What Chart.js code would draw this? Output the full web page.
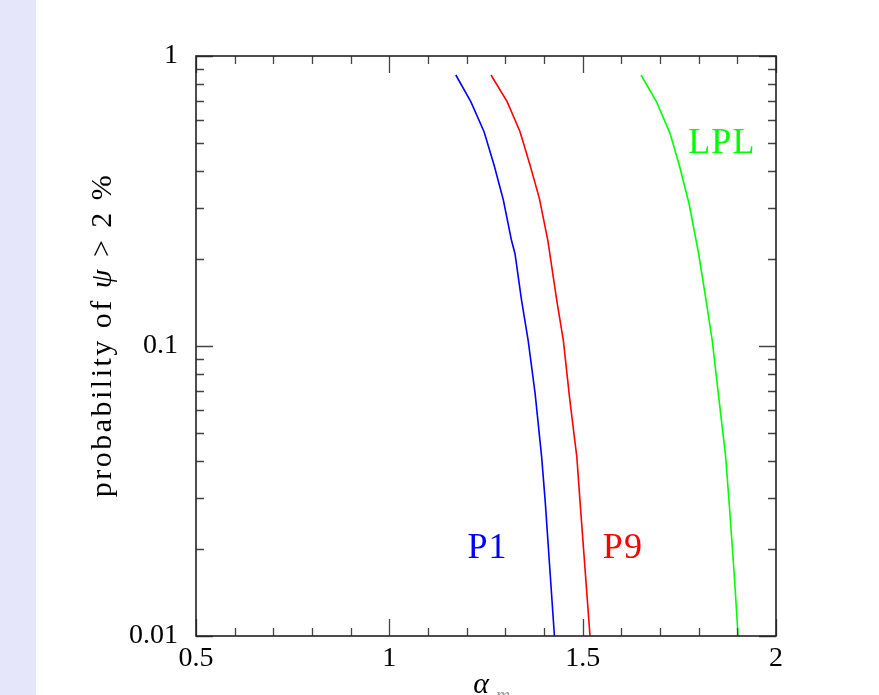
<!DOCTYPE html>
<html><head><meta charset="utf-8">
<script src="https://cdn.jsdelivr.net/npm/chart.js@4"></script>
<style>
html,body{margin:0;padding:0;background:#fff;overflow:hidden;}
#wrap{position:relative;width:879px;height:695px;}
#band{position:absolute;left:0;top:0;width:36px;height:695px;background:#e6e6fa;}
canvas{position:absolute;left:0;top:0;}
</style></head><body>
<div id="wrap"><div id="band"></div><canvas id="c" width="879" height="695"></canvas></div>
<script>
// ---- data ----
const p1X = [1.172, 1.211, 1.245, 1.271, 1.295, 1.316, 1.325, 1.342, 1.359, 1.377, 1.394, 1.403, 1.427];
const p1Y = [0.86, 0.695, 0.548, 0.42, 0.318, 0.231, 0.208, 0.1436, 0.1045, 0.0686, 0.0413, 0.0293, 0.01];
const p9X = [1.263, 1.305, 1.338, 1.364, 1.388, 1.410, 1.433, 1.450, 1.467, 1.485, 1.493, 1.519];
const p9Y = [0.86, 0.695, 0.548, 0.42, 0.323, 0.231, 0.1436, 0.1045, 0.0648, 0.0413, 0.0293, 0.01];
const lplX = [1.651, 1.691, 1.726, 1.751, 1.775, 1.800, 1.822, 1.835, 1.855, 1.870, 1.881, 1.892, 1.902];
const lplY = [0.86, 0.695, 0.541, 0.415, 0.310, 0.208, 0.136, 0.1045, 0.0614, 0.0413, 0.0263, 0.0163, 0.01];

const xTickValues = [0.5,0.6,0.7,0.8,0.9,1,1.1,1.2,1.3,1.4,1.5,1.6,1.7,1.8,1.9,2];
const xLabelValues = [0.5,1,1.5,2];
const yTickValues = [0.01,0.02,0.03,0.04,0.05,0.06,0.07,0.08,0.09,0.1,0.2,0.3,0.4,0.5,0.6,0.7,0.8,0.9,1];
const yLabelValues = [0.01,0.1,1];

const seriesNames = ['P1','P9','LPL'];
const seriesColors = ['#0000ff','#ff0000','#00ff00'];
const labelX = [1.254, 1.604, 1.86];
const labelY = [0.02, 0.02, 0.5];

const yTitleParts = ['probability of ', '\u03C8', ' > 2 %'];
const xTitle = '\u03B1';
const xTitleSub = 'm';

const toPts = (xs, ys) => xs.map((v, i) => ({x: v, y: ys[i]}));
const seriesData = [toPts(p1X, p1Y), toPts(p9X, p9Y), toPts(lplX, lplY)];

const decor = {
  id: 'decor',
  afterDatasetsDraw(chart) {
    const {ctx, chartArea: a, scales: {x, y}} = chart;
    ctx.save();
    // inward ticks
    ctx.strokeStyle = '#444';
    ctx.lineWidth = 1.3;
    ctx.beginPath();
    xTickValues.forEach(v => {
      const px = Math.round(x.getPixelForValue(v)) + 0.5;
      const L = xLabelValues.includes(v) ? 17 : 8;
      ctx.moveTo(px, a.bottom); ctx.lineTo(px, a.bottom - L);
      ctx.moveTo(px, a.top); ctx.lineTo(px, a.top + L);
    });
    yTickValues.forEach(v => {
      const py = Math.round(y.getPixelForValue(v)) + 0.5;
      const L = yLabelValues.includes(v) ? 17 : 8;
      ctx.moveTo(a.left, py); ctx.lineTo(a.left + L, py);
      ctx.moveTo(a.right, py); ctx.lineTo(a.right - L, py);
    });
    ctx.stroke();
    // frame
    ctx.strokeStyle = '#222';
    ctx.lineWidth = 1.6;
    ctx.strokeRect(a.left, a.top, a.right - a.left, a.bottom - a.top);
    // series labels
    ctx.font = '36px "Liberation Serif"';
    try { ctx.letterSpacing = '1px'; } catch(e) {}
    ctx.textAlign = 'center';
    ctx.textBaseline = 'middle';
    seriesNames.forEach((n, i) => {
      ctx.fillStyle = seriesColors[i];
      ctx.fillText(n, x.getPixelForValue(labelX[i]), y.getPixelForValue(labelY[i]));
    });
    // y title, rotated, in three runs (psi in italic)
    ctx.fillStyle = '#000';
    ctx.save();
    ctx.translate(103, 335);
    ctx.rotate(-Math.PI / 2);
    try { ctx.letterSpacing = '2.5px'; } catch(e) {}
    ctx.textAlign = 'left';
    ctx.textBaseline = 'middle';
    const fonts = ['30px "Liberation Serif"', 'italic 30px "Liberation Serif"', '30px "Liberation Serif"'];
    const widths = yTitleParts.map((t, i) => { ctx.font = fonts[i]; return ctx.measureText(t).width; });
    let cx = -widths.reduce((s, w) => s + w, 0) / 2;
    yTitleParts.forEach((t, i) => { ctx.font = fonts[i]; ctx.fillText(t, cx, 0); cx += widths[i]; });
    ctx.restore();
    // x title (cut at bottom edge, as in the reference)
    try { ctx.letterSpacing = '0px'; } catch(e) {}
    ctx.font = 'italic 30px "Liberation Serif"';
    ctx.textAlign = 'center';
    ctx.textBaseline = 'alphabetic';
    ctx.fillStyle = '#000';
    ctx.fillText(xTitle, 481, 693);
    ctx.font = 'italic 20px "Liberation Serif"';
    ctx.fillStyle = '#999';
    ctx.fillText(xTitleSub, 503, 702);
    ctx.restore();
  }
};

new Chart(document.getElementById('c'), {
  type: 'line',
  data: {
    datasets: seriesData.map((d, i) => ({
      label: seriesNames[i],
      data: d,
      borderColor: seriesColors[i],
      backgroundColor: seriesColors[i],
      borderWidth: 1.6,
      pointRadius: 0,
      tension: 0,
      fill: false
    }))
  },
  options: {
    responsive: false,
    animation: false,
    layout: {padding: {left: 36, right: 103, top: 56, bottom: 0}},
    plugins: {legend: {display: false}, tooltip: {enabled: false}},
    scales: {
      x: {
        type: 'linear', position: 'bottom', min: 0.5, max: 2,
        grid: {display: false, drawTicks: false},
        border: {display: false},
        afterBuildTicks: s => { s.ticks = xTickValues.map(v => ({value: v})); },
        afterFit: s => { s.height = 59; },
        ticks: {
          autoSkip: false, maxRotation: 0, padding: 6,
          color: '#000', font: {family: 'Liberation Serif', size: 28},
          callback: v => xLabelValues.includes(v) ? String(v) : ''
        }
      },
      y: {
        type: 'logarithmic', position: 'left', min: 0.01, max: 1,
        grid: {display: false, drawTicks: false},
        border: {display: false},
        afterBuildTicks: s => { s.ticks = yTickValues.map(v => ({value: v})); },
        afterFit: s => { s.width = 160; },
        ticks: {
          autoSkip: false, padding: 18,
          color: '#000', font: {family: 'Liberation Serif', size: 28},
          callback: v => yLabelValues.includes(v) ? String(v) : ''
        }
      }
    }
  },
  plugins: [decor]
});
</script>
</body></html>
